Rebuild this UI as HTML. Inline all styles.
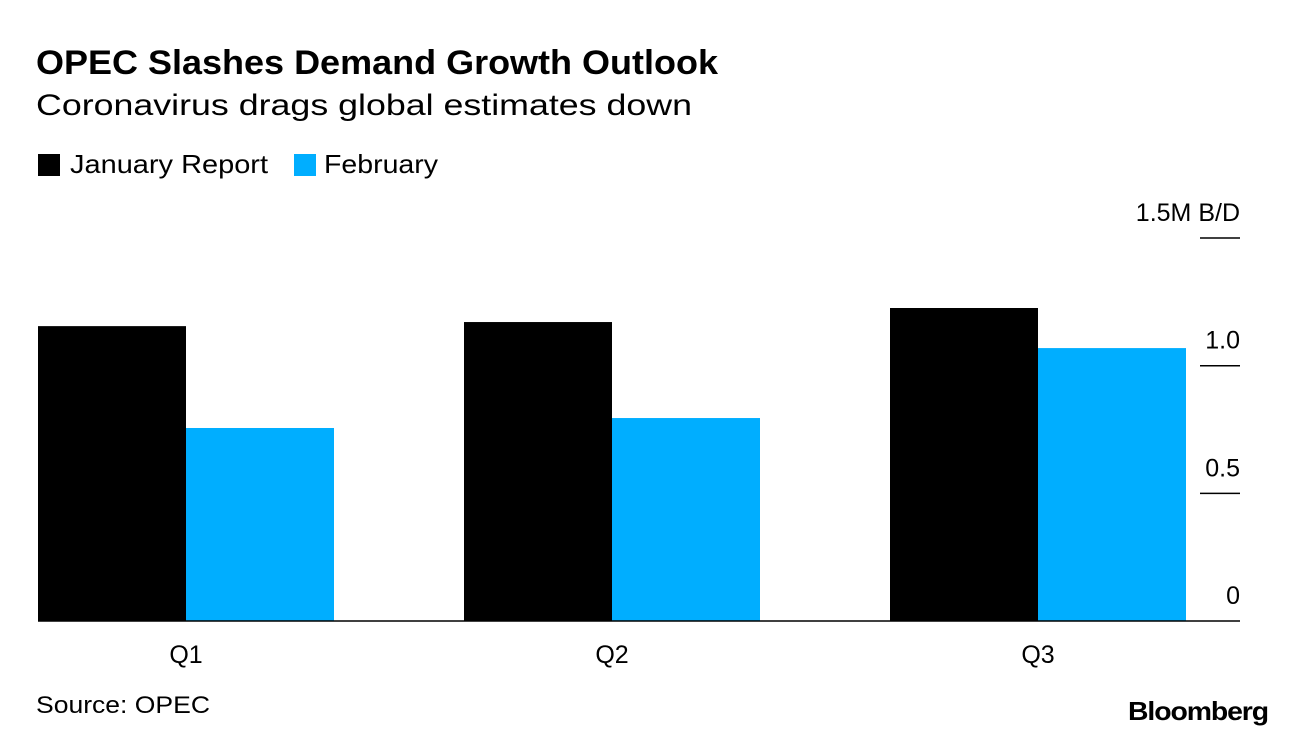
<!DOCTYPE html>
<html><head><meta charset="utf-8">
<style>
body{margin:0;background:#fff;font-family:"Liberation Sans",sans-serif;}
svg{display:block}
</style></head>
<body>
<svg width="1296" height="736" xmlns="http://www.w3.org/2000/svg">
<text x="36" y="74" font-size="34" font-weight="bold" fill="#000" textLength="682" lengthAdjust="spacingAndGlyphs">OPEC Slashes Demand Growth Outlook</text>
<text x="36" y="115" font-size="30" fill="#000" textLength="656" lengthAdjust="spacingAndGlyphs">Coronavirus drags global estimates down</text>
<g>
<rect x="38" y="154" width="22" height="22" fill="#000"/>
<text x="70" y="173" font-size="26" textLength="198" lengthAdjust="spacingAndGlyphs">January Report</text>
<rect x="294" y="154" width="22" height="22" fill="#00aeff"/>
<text x="324" y="173" font-size="26" textLength="114" lengthAdjust="spacingAndGlyphs">February</text>
</g>
<g id="plot"></g>
<text x="36" y="713" font-size="24" textLength="174" lengthAdjust="spacingAndGlyphs">Source: OPEC</text>
<text x="1268" y="720" font-size="26" font-weight="bold" text-anchor="end" letter-spacing="-1" textLength="140" lengthAdjust="spacingAndGlyphs">Bloomberg</text>
</svg>
<script>
const categories=["Q1","Q2","Q3"];
const january=[1.155,1.171,1.226];
const february=[0.756,0.795,1.069];
const ticks=[0,0.5,1.0,1.5];
const tickLabels=["0","0.5","1.0","1.5M B/D"];
const NS="http://www.w3.org/2000/svg";
const g=document.getElementById("plot");
const y0=621, pxPerUnit=255.3;
const y=v=>y0-v*pxPerUnit;
const cx=i=>186+i*426;
const bw=148;
function mk(t,a){const e=document.createElementNS(NS,t);for(const k in a)e.setAttribute(k,a[k]);g.appendChild(e);return e;}
categories.forEach((c,i)=>{
 let r=mk("rect",{x:cx(i)-bw,y:y(january[i]),width:bw,height:y0-y(january[i]),fill:"#000"});
 
 
 let b=mk("rect",{x:cx(i),y:y(february[i]),width:bw,height:y0-y(february[i]),fill:"#00aeff"});
 
 
 let t=mk("text",{x:cx(i),y:663,"font-size":25,"text-anchor":"middle"});
 t.textContent=c;
 
 
});
ticks.forEach((v,i)=>{
 if(v>0){let l=mk("line",{x1:1200,x2:1240,y1:y(v),y2:y(v),stroke:"#000","stroke-width":1.5});
 
 }
 let t=mk("text",{x:1240,y:y(v)-17,"font-size":25,"text-anchor":"end"});
 t.textContent=tickLabels[i];
 
 
});
let ax=mk("line",{x1:38,x2:1240,y1:y0,y2:y0,stroke:"#000","stroke-width":1.5});


</script>
</body></html>
